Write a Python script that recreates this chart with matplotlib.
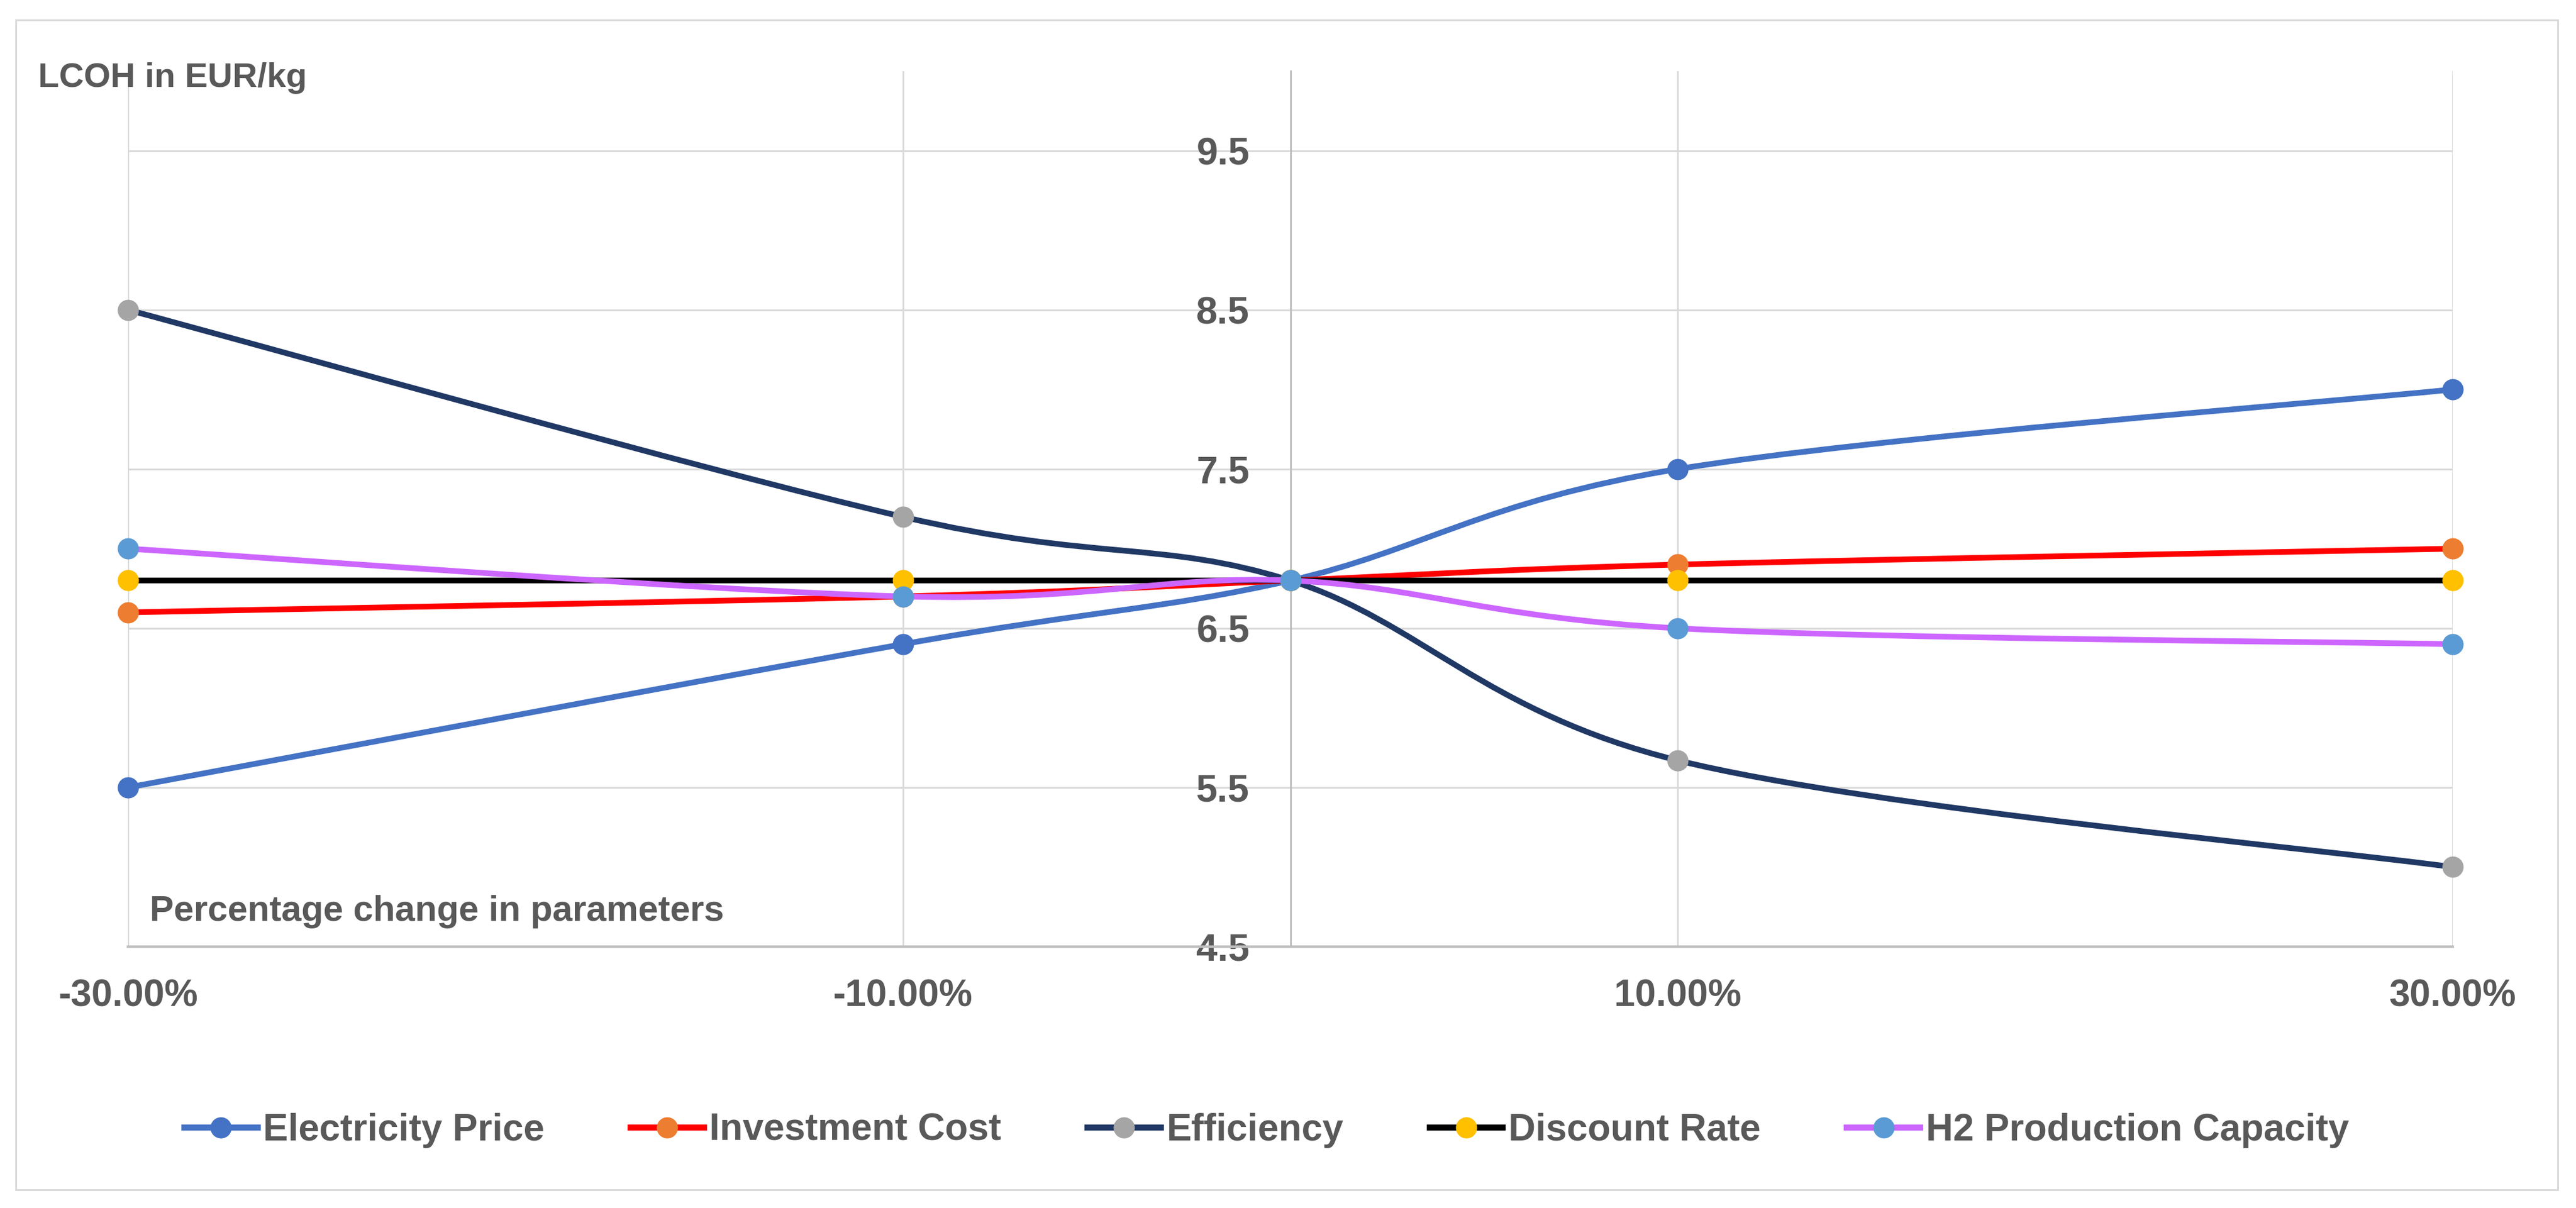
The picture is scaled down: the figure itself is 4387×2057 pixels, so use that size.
import matplotlib
matplotlib.use("Agg")
import matplotlib.pyplot as plt
from matplotlib.path import Path
from matplotlib.patches import PathPatch, Rectangle
from matplotlib.lines import Line2D
from matplotlib import font_manager

# ---------------- data ----------------
pct_change = [-30, -10, 0, 10, 30]
x_tick_values = [-30, -10, 10, 30]
x_tick_labels = ["-30.00%", "-10.00%", "10.00%", "30.00%"]
y_ticks = [4.5, 5.5, 6.5, 7.5, 8.5, 9.5]
y_tick_labels = ["4.5", "5.5", "6.5", "7.5", "8.5", "9.5"]

series_names = ["Electricity Price", "Investment Cost", "Efficiency",
                "Discount Rate", "H2 Production Capacity"]
electricity_price = [5.5, 6.4, 6.8, 7.5, 8.0]
investment_cost = [6.6, 6.7, 6.8, 6.9, 7.0]
efficiency = [8.5, 7.2, 6.8, 5.67, 5.0]
discount_rate = [6.8, 6.8, 6.8, 6.8, 6.8]
h2_capacity = [7.0, 6.7, 6.8, 6.5, 6.4]

series_values = [electricity_price, investment_cost, efficiency,
                 discount_rate, h2_capacity]
line_colors = ["#4472C4", "#FF0000", "#203864", "#000000", "#CC66FF"]
marker_colors = ["#4472C4", "#ED7D31", "#A5A5A5", "#FFC000", "#5B9BD5"]

# ---------------- fonts ----------------
available = {f.name for f in font_manager.fontManager.ttflist}
font = "Liberation Sans Narrow" if "Liberation Sans Narrow" in available else "Liberation Sans"
plt.rcParams["font.family"] = [font, "DejaVu Sans"]
plt.rcParams["font.weight"] = "bold"
text_color = "#595959"
fs = 46

W, H = 4387, 2057
fig = plt.figure(figsize=(W / 100, H / 100), dpi=100)

# outer chart border
fig.patches.append(Rectangle((27 / W, 1 - 2026 / H), (4356 - 27) / W, (2026 - 34) / H,
                             transform=fig.transFigure, fill=False,
                             edgecolor="#D9D9D9", linewidth=2.2, zorder=0))

ax_l, ax_r = 218 / W, 4177 / W
ax_b, ax_t = 1 - 1612 / H, 1 - 121 / H
ax = fig.add_axes([ax_l, ax_b, ax_r - ax_l, ax_t - ax_b])
ax.set_xlim(-30, 30)
ax.set_ylim(4.5, 10.0)

# grid
for yv in y_ticks[1:]:
    ax.axhline(yv, color="#D9D9D9", lw=2.2, zorder=1)
for xv in x_tick_values:
    ax.axvline(xv, color="#D9D9D9", lw=2.0, zorder=1)

for s in ["top", "right"]:
    ax.spines[s].set_visible(False)
ax.spines["left"].set_position(("data", 0))
ax.spines["left"].set_color("#BFBFBF")
ax.spines["left"].set_linewidth(2.2)
ax.spines["bottom"].set_color("#BFBFBF")
ax.spines["bottom"].set_linewidth(3.2)

ax.set_yticks(y_ticks)
ax.set_yticklabels(y_tick_labels)
ax.set_xticks(x_tick_values)
ax.set_xticklabels(x_tick_labels)
ax.tick_params(axis="y", length=0, pad=50, labelsize=fs + 1, labelcolor=text_color)
ax.tick_params(axis="x", length=0, pad=39, labelsize=fs, labelcolor=text_color)


def smooth_path(xs, ys):
    pts = list(zip(xs, ys))
    n = len(pts)
    verts = [pts[0]]
    codes = [Path.MOVETO]
    for i in range(n - 1):
        p0 = pts[i - 1] if i > 0 else pts[i]
        p1 = pts[i]
        p2 = pts[i + 1]
        p3 = pts[i + 2] if i + 2 < n else pts[i + 1]
        c1 = (p1[0] + (p2[0] - p0[0]) / 6, p1[1] + (p2[1] - p0[1]) / 6)
        c2 = (p2[0] - (p3[0] - p1[0]) / 6, p2[1] - (p3[1] - p1[1]) / 6)
        verts += [c1, c2, p2]
        codes += [Path.CURVE4] * 3
    return Path(verts, codes)


lw = 7
ms = 26
for k, (name, vals) in enumerate(zip(series_names, series_values)):
    patch = PathPatch(smooth_path(pct_change, vals), facecolor="none",
                      edgecolor=line_colors[k], lw=lw, capstyle="round",
                      joinstyle="round", transform=ax.transData, zorder=3 + 2 * k)
    ax.add_patch(patch)
    ax.plot(pct_change, vals, linestyle="none", marker="o", markersize=ms,
            markerfacecolor=marker_colors[k], markeredgewidth=0,
            zorder=4 + 2 * k, clip_on=False)

# texts
fig.text(65 / W, 1 - 148 / H, "LCOH in EUR/kg", fontsize=42, color=text_color,
         ha="left", va="baseline", fontweight="bold")
fig.text(255 / W, 1 - 1568 / H, "Percentage change in parameters", fontsize=44,
         color=text_color, ha="left", va="baseline", fontweight="bold")

# legend
handles = [Line2D([0], [0], color=line_colors[k], lw=7.5, marker="o", markersize=ms,
                  markerfacecolor=marker_colors[k], markeredgewidth=0)
           for k in range(len(series_names))]
leg = fig.legend(handles, series_names, loc="center", ncol=5,
                 bbox_to_anchor=(2157 / W, 1 - 1925 / H), frameon=False,
                 fontsize=fs, handlelength=1.95, handletextpad=0.15,
                 columnspacing=2.3, borderaxespad=0)
for t in leg.get_texts():
    t.set_color(text_color)

fig.savefig("out.png", dpi=100)
